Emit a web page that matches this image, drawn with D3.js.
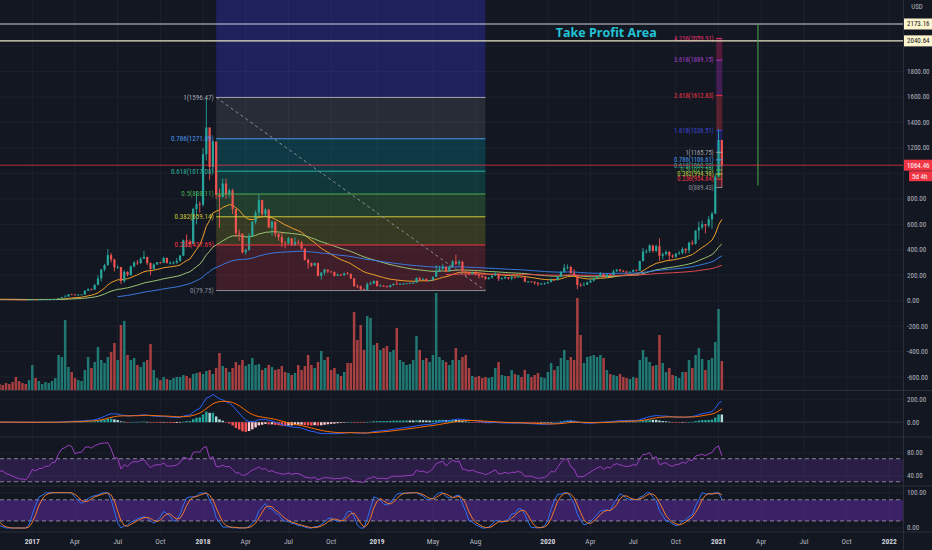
<!DOCTYPE html>
<html><head><meta charset="utf-8">
<script src="https://cdn.jsdelivr.net/npm/d3@7"></script>
<style>html,body{margin:0;padding:0;background:#131722;overflow:hidden}</style>
</head><body><svg id="c" width="932" height="550"></svg>
<script>
// ---------- DATA (weekly bars) ----------
const firstWeek = "2015-08-10";           // first weekly close (history used for indicators)
const preCloses = [1.2,1.4,1.2,1.3,1.0,0.9,0.8,0.7,0.65,0.55,0.5,1.0,1.0,0.9,0.95,0.9,0.85,0.85,0.9,0.9,0.95,
 1.0,1.2,1.6,2.3,2.5,5.2,4.4,6.3,9.0,12.5,11.0,11.0,11.5,10.5,8.3,8.0,8.8,9.4,10.2,13.4,12.5,14.0,17.0,15.5,13.0,12.0,10.6,11.8,14.0,12.3,11.0,11.2,11.1,11.2,11.9,11.8,12.6,13.1,13.1,12.1,11.9,11.9];
// visible bars from 2016-10-24
const closes = [11.0,10.9,10.0,9.6,8.9,8.3,7.7,7.6,7.2,8.2,
 10.2,9.7,10.5,10.6,11.4,11.4,12.8,13.1,19.5,28.5,
 33,50,49,43,48,49,79,90,88,125,
 175,245,280,358,324,262,265,155,226,203,
 270,300,296,330,345,296,250,285,302,298,
 335,297,297,300,313,354,475,465,445,720,
 760,755,1150,1360,1050,1250,830,815,920,840,
 865,720,530,525,380,400,510,620,690,790,
 680,715,575,620,525,500,455,450,490,435,
 460,455,410,320,295,275,295,195,220,245,
 230,225,195,205,200,215,210,175,115,113,
 90,85,130,135,155,115,118,113,107,123,
 133,131,131,134,136,138,141,178,165,170,
 156,163,188,235,250,265,230,268,307,292,
 305,230,225,210,222,205,195,187,172,182,
 197,212,174,176,186,175,185,183,189,183,
 150,151,150,141,132,134,136,146,166,161,
 189,228,260,265,218,200,124,122,125,143,
 158,178,194,210,186,207,201,231,244,236,
 229,225,228,241,236,311,386,391,433,391,
 428,353,366,383,355,346,370,377,406,396,
 455,447,550,575,601,590,639,685,975,1262,1064.46];
const highs = [11.9,11.2,11.0,10.2,9.8,9.0,8.5,8.3,7.7,8.4,
 11.2,10.8,10.9,10.9,11.6,11.6,13.1,13.5,19.8,29,
 45,53,55,51,50,50,80,98,95,130,
 200,250,290,405,375,330,280,265,240,232,
 275,310,320,340,390,340,300,295,305,305,
 345,340,310,310,335,360,480,520,480,730,
 860,780,1200,1596.47,1360,1260,1250,880,960,960,
 880,880,720,560,530,410,530,630,710,835,
 790,730,720,630,625,530,540,470,500,490,
 500,480,470,410,330,300,300,300,225,250,
 245,235,230,215,210,220,225,215,180,130,
 120,95,145,150,160,160,130,125,118,125,
 135,165,140,140,140,144,145,185,185,180,
 178,165,190,280,275,290,270,275,320,362,
 320,315,235,230,230,235,215,200,195,185,
 200,225,215,185,195,185,200,190,195,190,
 185,155,155,150,145,140,145,150,175,173,
 190,230,287,285,275,250,200,140,145,150,
 175,180,198,227,215,210,215,245,250,250,
 240,235,230,245,245,315,415,405,445,440,
 440,490,380,395,390,365,375,390,420,415,
 465,475,555,620,630,600,665,700,1000,1350,1265];
const lows = [10.9,10.6,9.9,9.2,8.6,8.1,7.6,7.4,7.0,7.2,
 8.0,9.5,9.8,10.3,10.6,11.0,11.3,12.5,13.0,19,
 28,33,45,42,41,46,48,75,82,87,
 122,150,230,275,300,230,250,130,140,190,
 195,260,280,290,330,280,200,245,280,290,
 295,290,285,285,290,305,350,420,420,445,
 600,690,740,1100,950,1000,800,570,810,800,
 810,680,500,470,370,360,390,500,600,660,
 660,660,570,510,500,470,420,410,440,430,
 430,440,400,315,250,265,275,190,165,200,
 215,220,190,195,195,195,205,170,110,100,
 85,79.75,84,125,130,113,114,110,102,105,
 118,128,126,126,130,133,132,140,160,163,
 150,150,160,185,225,240,225,230,265,280,
 270,225,190,200,205,200,175,180,165,165,
 175,195,155,165,170,165,160,175,180,180,
 145,140,144,125,115,125,127,135,145,155,
 160,185,220,245,210,195,90,110,120,125,
 140,150,170,190,180,185,195,198,228,225,
 225,215,220,225,230,235,310,370,375,380,
 380,310,325,355,310,335,335,360,365,370,
 375,435,440,480,560,530,575,565,680,975,889.43];
const volumes = [6,5,7,6,8,13,9,7,6,10,
 25,12,9,6,8,7,9,12,35,33,
 70,23,18,12,10,9,20,33,22,28,
 43,30,27,33,38,47,30,65,69,35,
 30,32,25,23,28,30,46,20,12,10,
 13,11,10,12,13,13,15,14,12,16,
 17,18,16,19,20,16,22,37,24,22,
 18,22,28,25,30,24,26,32,25,26,
 20,22,25,23,20,21,24,18,17,15,
 17,25,20,24,35,25,22,28,39,30,
 33,20,22,16,14,18,27,27,78,50,
 65,40,74,72,45,47,40,42,44,38,
 40,62,30,28,25,26,30,54,40,30,
 32,28,35,97,33,30,28,25,30,42,
 30,33,35,22,14,13,14,12,13,12,
 13,22,28,15,14,14,20,16,15,13,
 20,16,13,15,17,13,12,18,27,20,
 24,32,40,30,33,30,92,55,27,33,
 34,35,33,35,32,20,16,15,14,16,
 13,12,11,13,12,30,40,33,28,24,
 25,55,27,18,22,15,14,12,18,18,
 30,22,35,42,31,20,30,32,48,81,29];

const timeTicks = [["2017-01-02","2017",1],["2017-04-03","Apr",0],["2017-07-03","Jul",0],["2017-10-02","Oct",0],
 ["2018-01-01","2018",1],["2018-04-02","Apr",0],["2018-07-02","Jul",0],["2018-10-01","Oct",0],
 ["2019-01-07","2019",1],["2019-05-06","May",0],["2019-08-05","Aug",0],
 ["2020-01-06","2020",1],["2020-04-06","Apr",0],["2020-07-06","Jul",0],["2020-10-05","Oct",0],
 ["2021-01-04","2021",1],["2021-04-05","Apr",0],["2021-07-05","Jul",0],["2021-10-04","Oct",0],["2022-01-03","2022",1]];
const priceTicks = [-600,-400,-200,0,200,400,600,800,1000,1200,1400,1600,1800,2000];
const macdTicks = [0,200];
const rsiTicks = [40,80];
const stochTicks = [0,100];
const rsiBands = [30,70];
const stochBands = [20,80];

const hLines = [{price:2173.16,color:"#d1d4dc"},{price:2040.64,color:"#e9e6c6"}];
const lastPrice = 1064.46, countdown = "5d 4h";
const tpText = "Take Profit Area", tpDate = "2020-01-23", tpPrice = 2107;
const vLine = {date:"2021-03-29", top:2173.16, bottom:905};

const fibLeft = {start:"2018-01-29", end:"2019-08-26"};
const fibLeftLevels = [0,0.236,0.382,0.5,0.618,0.786,1,1.618];
const fibLeftPrices = [79.75,437.69,659.14,838.11,1017.08,1271.89,1596.47,2533.8];
const fibRight = {start:"2020-12-30", end:"2021-01-12"};
const fibRightLevels = [0,0.236,0.382,0.5,0.618,0.786,1,1.618,2.618,3.618,4.236];
const fibRightPrices = [889.43,954.64,994.98,1027.59,1060.20,1106.61,1165.75,1336.51,1612.83,1889.15,2059.91];
const fibColors = {"0":"#8a8d96","0.236":"#f23645","0.382":"#c9c93a","0.5":"#4caf50","0.618":"#2bb39c",
 "0.786":"#4a9be8","1":"#a3a6af","1.618":"#3c46d8","2.618":"#f23645","3.618":"#a43fc8","4.236":"#e0306a"};
const fibFills = {"0.236":"rgba(242,54,69,0.2)","0.382":"rgba(200,200,40,0.2)","0.5":"rgba(76,175,80,0.25)",
 "0.618":"rgba(8,153,129,0.25)","0.786":"rgba(0,188,212,0.2)","1":"rgba(120,123,134,0.22)",
 "1.618":"rgba(60,60,240,0.28)","2.618":"rgba(242,54,69,0.3)","3.618":"rgba(156,39,176,0.35)","4.236":"rgba(233,30,99,0.3)"};

const maConfigs = [{n:20,color:"#f2a02a"},{n:50,color:"#9cc472"},{n:100,color:"#3b7ae0"},{n:200,color:"#e0474f"}];

// ---------- LAYOUT ----------
const W = 932, PW = 903;
const panes = {main:[0,390], macd:[391,437], rsi:[437,486], stoch:[486,532]};
const FONT = "'Liberation Sans Narrow','Roboto Condensed','DejaVu Sans Condensed',Roboto,sans-serif";
const UP = "#26a69a", DN = "#ef5350";

const parse = s => new Date(s + "T00:00:00Z");
const x = d3.scaleUtc().domain([new Date(Date.UTC(2016,9,25,3)), new Date(Date.UTC(2022,1,1,5))]).range([0, PW]);
const y = d3.scaleLinear().domain([-701, 2361.6]).range([390, 0]);
const yVol = d3.scaleLinear().domain([0, 100]).range([390, 290]);
const yMacd = d3.scaleLinear().domain([-128.7, 271.3]).range([437, 391]);
const yRsi = d3.scaleLinear().domain([22.6, 107.8]).range([486, 437]);
const ySto = d3.scaleLinear().domain([-11.3, 119]).range([532, 486]);

// ---------- INDICATORS ----------
const allCloses = preCloses.concat(closes);
const N = allCloses.length;
const t0 = parse(firstWeek).getTime();
const dates = d3.range(N).map(k => new Date(t0 + k*7*864e5));
function ema(arr, n){
  const out = new Array(arr.length).fill(null);
  let s = arr.findIndex(v => v != null); if (s < 0) return out;
  const e = s + n - 1; if (e >= arr.length) return out;
  out[e] = d3.mean(arr.slice(s, e+1)); const a = 2/(n+1);
  for (let k = e+1; k < arr.length; k++) out[k] = a*arr[k] + (1-a)*out[k-1];
  return out;
}
function sma(arr, n){
  return arr.map((v,k) => { if (k < n-1) return null; const w = arr.slice(k-n+1, k+1); return w.some(q => q == null) ? null : d3.mean(w); });
}
const e12 = ema(allCloses,12), e26 = ema(allCloses,26);
const macd = allCloses.map((c,k) => e26[k] == null ? null : e12[k]-e26[k]);
const signal = ema(macd, 9);
const hist = macd.map((m,k) => signal[k] == null ? null : m - signal[k]);
// RSI 14 (Wilder)
const rsi = new Array(N).fill(null);
{ let g=0,l=0; for (let k=1;k<=14;k++){ const d=allCloses[k]-allCloses[k-1]; if(d>0) g+=d; else l-=d; }
  g/=14; l/=14; rsi[14] = 100-100/(1+g/l);
  for (let k=15;k<N;k++){ const d=allCloses[k]-allCloses[k-1]; g=(g*13+Math.max(d,0))/14; l=(l*13+Math.max(-d,0))/14; rsi[k]= l===0?100:100-100/(1+g/l); } }
const stochRaw = rsi.map((v,k) => { if (k < 27) return null; const w = rsi.slice(k-13,k+1); const lo=d3.min(w), hi=d3.max(w); return hi===lo?50:(v-lo)/(hi-lo)*100; });
const kLine = sma(stochRaw,3), dLine = sma(kLine,3);

// ---------- DRAW ----------
const svg = d3.select("#c");
svg.append("rect").attr("width",W).attr("height",550).attr("fill","#131722");
const defs = svg.append("defs");
Object.entries(panes).forEach(([k,[a,b]]) => defs.append("clipPath").attr("id","clip-"+k).append("rect").attr("x",0).attr("y",a).attr("width",PW).attr("height",b-a));
const layer = k => svg.append("g").attr("clip-path","url(#clip-"+k+")");

// grid
const grid = svg.append("g").attr("stroke","#1d212c").attr("stroke-width",1);
timeTicks.forEach(t => grid.append("line").attr("x1",x(parse(t[0]))).attr("x2",x(parse(t[0]))).attr("y1",0).attr("y2",532));
priceTicks.forEach(p => grid.append("line").attr("x1",0).attr("x2",PW).attr("y1",y(p)).attr("y2",y(p)));
macdTicks.forEach(p => grid.append("line").attr("x1",0).attr("x2",PW).attr("y1",yMacd(p)).attr("y2",yMacd(p)));
rsiTicks.forEach(p => grid.append("line").attr("x1",0).attr("x2",PW).attr("y1",yRsi(p)).attr("y2",yRsi(p)));
stochTicks.forEach(p => grid.append("line").attr("x1",0).attr("x2",PW).attr("y1",ySto(p)).attr("y2",ySto(p)));

const main = layer("main");
// fib fills
function fibFill(fib, levels, prices){
  const xa = x(parse(fib.start)), xb = x(parse(fib.end));
  for (let j=1;j<levels.length;j++){
    const c = fibFills[String(levels[j])];
    const ya = y(prices[j]), yb = y(prices[j-1]);
    main.append("rect").attr("x",xa).attr("width",xb-xa).attr("y",ya).attr("height",yb-ya).attr("fill",c);
  }
}
fibFill(fibLeft, fibLeftLevels, fibLeftPrices);
fibFill(fibRight, fibRightLevels, fibRightPrices);

// volume
const vis = closes.map((c,i) => { const k = i + preCloses.length; const o = allCloses[k-1];
  return {d:dates[k], o, c, h:highs[i], l:lows[i], v:volumes[i], up: c >= o}; });
main.selectAll(".vol").data(vis).enter().append("rect")
  .attr("x", d => x(d.d)-1.25).attr("width",2.5)
  .attr("y", d => yVol(d.v)).attr("height", d => yVol(0)-yVol(d.v))
  .attr("fill", d => d.up ? "rgba(38,166,154,0.68)" : "rgba(239,83,80,0.68)");

// moving averages
maConfigs.forEach(m => {
  const vals = ema(allCloses, m.n);
  const line = d3.line().defined(d => d.v != null).x(d => x(d.d)).y(d => y(d.v));
  main.append("path").datum(vals.map((v,k) => ({d:dates[k], v}))).attr("d", line)
    .attr("fill","none").attr("stroke", m.color).attr("stroke-width",1);
});

// candles
const cg = main.append("g");
vis.forEach(d => {
  const col = d.up ? UP : DN, cx = x(d.d);
  cg.append("line").attr("x1",cx).attr("x2",cx).attr("y1",y(d.h)).attr("y2",y(d.l)).attr("stroke",col).attr("stroke-width",0.9);
  const top = y(Math.max(d.o,d.c)), bot = y(Math.min(d.o,d.c));
  cg.append("rect").attr("x",cx-1.1).attr("width",2.2).attr("y",top).attr("height",Math.max(0.8, bot-top)).attr("fill",col);
});

// fib lines + labels
function fibLines(fib, levels, prices, fs){
  const xa = x(parse(fib.start)), xb = x(parse(fib.end));
  levels.forEach((lv,j) => {
    const yy = y(prices[j]); if (yy < 5) return;
    const col = fibColors[String(lv)];
    main.append("line").attr("x1",xa).attr("x2",xb).attr("y1",yy).attr("y2",yy).attr("stroke",col).attr("stroke-width",1);
    main.append("text").attr("x",xa-2.5).attr("y",yy).attr("dy","0.35em").attr("text-anchor","end")
      .attr("font-family",FONT).attr("font-size",fs).attr("fill",col).text(lv + "(" + prices[j].toFixed(2) + ")");
  });
}
fibLines(fibLeft, fibLeftLevels, fibLeftPrices, 7);
fibLines(fibRight, fibRightLevels, fibRightPrices, 6.5);
main.append("line").attr("x1",x(parse(fibLeft.start))).attr("y1",y(fibLeftPrices[6]))
  .attr("x2",x(parse(fibLeft.end))).attr("y2",y(fibLeftPrices[0]))
  .attr("stroke","#8a8d96").attr("stroke-width",1).attr("stroke-dasharray","3,3");

// horizontal take-profit lines, vertical line
hLines.forEach(h => main.append("line").attr("x1",0).attr("x2",PW).attr("y1",y(h.price)).attr("y2",y(h.price)).attr("stroke",h.color).attr("stroke-width",1.1));
main.append("line").attr("x1",x(parse(vLine.date))).attr("x2",x(parse(vLine.date))).attr("y1",y(vLine.top)).attr("y2",y(vLine.bottom)).attr("stroke","#4caf50").attr("stroke-width",1);
main.append("text").attr("x",x(parse(tpDate))).attr("y",y(tpPrice)).attr("dy","0.36em")
  .attr("font-family","'Liberation Sans Narrow','Open Sans',sans-serif").attr("font-weight",700).attr("font-size",12.5)
  .attr("fill","#22c3d6").text(tpText);
// last price line
main.append("line").attr("x1",0).attr("x2",PW).attr("y1",y(lastPrice)).attr("y2",y(lastPrice)).attr("stroke","#f23645").attr("stroke-opacity",0.75).attr("stroke-width",1);

// MACD pane
const mg = layer("macd");
mg.append("line").attr("x1",0).attr("x2",PW).attr("y1",yMacd(0)).attr("y2",yMacd(0)).attr("stroke","#2a2e39");
hist.forEach((h,k) => { if (h == null) return; const p = hist[k-1];
  const col = h >= 0 ? (p != null && h < p ? "#b2dfdb" : "#26a69a") : (p != null && h > p ? "#ffcdd2" : "#ff5252");
  const y0 = yMacd(0), y1 = yMacd(h);
  mg.append("rect").attr("x",x(dates[k])-1.2).attr("width",2.4).attr("y",Math.min(y0,y1)).attr("height",Math.max(0.5,Math.abs(y1-y0))).attr("fill",col);
});
const lineM = d3.line().defined(d => d.v != null).x(d => x(d.d));
mg.append("path").datum(macd.map((v,k)=>({d:dates[k],v}))).attr("d", lineM.y(d => yMacd(d.v))).attr("fill","none").attr("stroke","#2962ff").attr("stroke-width",1);
mg.append("path").datum(signal.map((v,k)=>({d:dates[k],v}))).attr("d", lineM.y(d => yMacd(d.v))).attr("fill","none").attr("stroke","#ff6d00").attr("stroke-width",1);

// RSI pane
const rg = layer("rsi");
rg.append("rect").attr("x",0).attr("width",PW).attr("y",yRsi(rsiBands[1])).attr("height",yRsi(rsiBands[0])-yRsi(rsiBands[1])).attr("fill","rgba(126,60,200,0.22)");
rsiBands.forEach(b => rg.append("line").attr("x1",0).attr("x2",PW).attr("y1",yRsi(b)).attr("y2",yRsi(b)).attr("stroke","#a0a3ac").attr("stroke-dasharray","4,3").attr("stroke-width",0.8));
rg.append("path").datum(rsi.map((v,k)=>({d:dates[k],v}))).attr("d", d3.line().defined(d=>d.v!=null).x(d=>x(d.d)).y(d=>yRsi(d.v)))
  .attr("fill","none").attr("stroke","#9b3fc0").attr("stroke-width",1);

// Stoch RSI pane
const sg = layer("stoch");
sg.append("rect").attr("x",0).attr("width",PW).attr("y",ySto(stochBands[1])).attr("height",ySto(stochBands[0])-ySto(stochBands[1])).attr("fill","rgba(126,50,210,0.38)");
stochBands.forEach(b => sg.append("line").attr("x1",0).attr("x2",PW).attr("y1",ySto(b)).attr("y2",ySto(b)).attr("stroke","#a0a3ac").attr("stroke-dasharray","4,3").attr("stroke-width",0.8));
const lineS = d3.line().defined(d=>d.v!=null).x(d=>x(d.d)).y(d=>ySto(d.v));
sg.append("path").datum(kLine.map((v,k)=>({d:dates[k],v}))).attr("d", lineS).attr("fill","none").attr("stroke","#2f72f0").attr("stroke-width",1);
sg.append("path").datum(dLine.map((v,k)=>({d:dates[k],v}))).attr("d", lineS).attr("fill","none").attr("stroke","#f07a2a").attr("stroke-width",1);

// separators
const sep = svg.append("g").attr("stroke","#2a2e39").attr("stroke-width",1);
[390.5,437,486,532].forEach(v => sep.append("line").attr("x1",0).attr("x2",W).attr("y1",v).attr("y2",v));
sep.append("line").attr("x1",PW+0.5).attr("x2",PW+0.5).attr("y1",0).attr("y2",550);

// right axis labels (price ticks hidden where a price box covers them)
const ax = svg.append("g").attr("font-family",FONT).attr("font-size",7).attr("fill","#b2b5be");
const axLabel = (yy, v) => ax.append("text").attr("x",907).attr("y",yy).attr("dy","0.35em").text(v.toFixed(2));
const boxYs = hLines.map(h => y(h.price)).concat([y(lastPrice), y(lastPrice)+11]);
priceTicks.forEach(p => { if (boxYs.every(b => Math.abs(b - y(p)) > 9)) axLabel(y(p), p); });
macdTicks.forEach(p => axLabel(yMacd(p), p));
rsiTicks.forEach(p => axLabel(yRsi(p), p));
stochTicks.forEach(p => axLabel(ySto(p), p));
ax.append("text").attr("x",917).attr("y",9).attr("text-anchor","middle").text("USD");
hLines.forEach(h => {
  ax.append("rect").attr("x",PW+1).attr("width",W-PW-1).attr("y",y(h.price)-5.5).attr("height",11).attr("fill","#fdf5cf");
  ax.append("text").attr("x",907).attr("y",y(h.price)).attr("dy","0.35em").attr("fill","#131722").text(h.price.toFixed(2));
});
ax.append("rect").attr("x",PW+1).attr("width",W-PW-1).attr("y",y(lastPrice)-5.5).attr("height",11).attr("fill","#f23645");
ax.append("text").attr("x",907).attr("y",y(lastPrice)).attr("dy","0.35em").attr("fill","#ffffff").text(lastPrice.toFixed(2));
ax.append("rect").attr("x",909).attr("width",W-909).attr("y",y(lastPrice)+6).attr("height",10).attr("fill","#f23645");
ax.append("text").attr("x",912).attr("y",y(lastPrice)+11).attr("dy","0.35em").attr("fill","#ffffff").text(countdown);

// time axis labels
const tx = svg.append("g").attr("font-family",FONT).attr("font-size",7.5).attr("text-anchor","middle");
timeTicks.forEach(t => tx.append("text").attr("x",x(parse(t[0]))).attr("y",544)
  .attr("fill", t[2] ? "#d1d4dc" : "#b2b5be").attr("font-weight", t[2] ? 700 : 400).text(t[1]));
</script></body></html>
